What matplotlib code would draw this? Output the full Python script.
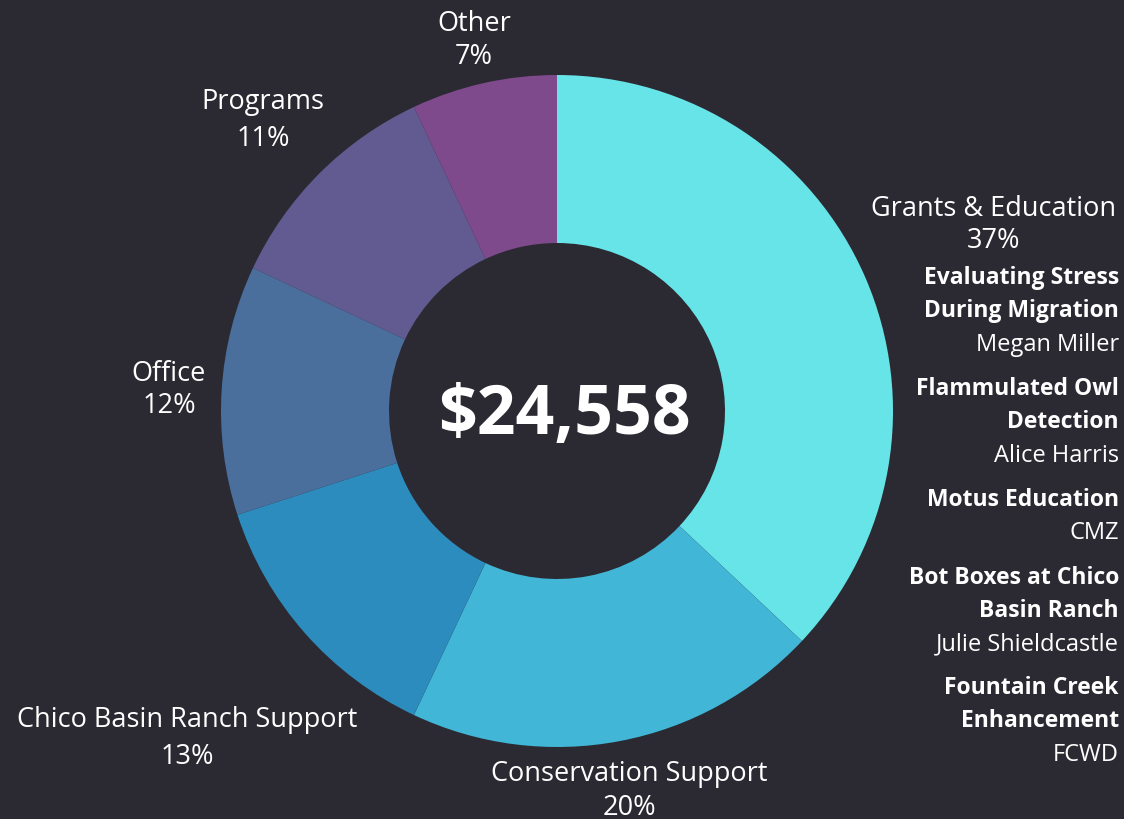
import matplotlib
matplotlib.use("Agg")
import matplotlib.pyplot as plt

# ---- data ----
categories = ["Grants & Education", "Conservation Support", "Chico Basin Ranch Support",
              "Office", "Programs", "Other"]
percents = [37, 20, 13, 12, 11, 7]
total_label = "$24,558"
projects = ["Evaluating Stress\nDuring Migration", "Flammulated Owl\nDetection",
            "Motus Education", "Bot Boxes at Chico\nBasin Ranch", "Fountain Creek\nEnhancement"]
project_leads = ["Megan Miller", "Alice Harris", "CMZ", "Julie Shieldcastle", "FCWD"]

# ---- style ----
bg = "#2b2a33"
colors = ["#67e4e8", "#41b6d6", "#2b8cbd", "#4a6f9d", "#625b91", "#7e4a8c"]
W, H = 1124, 820

fig = plt.figure(figsize=(W / 100, H / 100), dpi=100, facecolor=bg)
ax = fig.add_axes([0, 0, 1, 1])
ax.set_facecolor(bg)

cx, cy = 557, H - 412
R = 336
wedges, _ = ax.pie(percents, colors=colors, startangle=90, counterclock=False,
                   center=(cx, cy), radius=R, frame=True,
                   wedgeprops=dict(width=R - 168, linewidth=0))
ax.set_xlim(0, W)
ax.set_ylim(0, H)
ax.set_aspect("equal")
ax.set_axis_off()

FAM = ["Open Sans", "DejaVu Sans"]
label_font = dict(family=FAM, fontsize=19.5, color="white", fontweight="normal")
label_pos = [(994, 209, 241), (629, 774, 808), (187, 720, 757), (169, 374, 406),
             (263, 102, 139), (474, 24, 57)]
for cat, p, (x, y1, y2) in zip(categories, percents, label_pos):
    ax.text(x, H - y1, cat, ha="center", va="center", **label_font)
    ax.text(x, H - y2, f"{p}%", ha="center", va="center", **label_font)

ax.text(cx + 7, H - 416, total_label, ha="center", va="center", color="white",
        fontsize=49, fontweight="bold", family=FAM)

# project list
xr = 1119
proj_tops = [278, 389, 500, 578, 688]
lh = 33.3
for name, lead, top in zip(projects, project_leads, proj_tops):
    lines = name.split("\n")
    for i, ln in enumerate(lines):
        ax.text(xr, H - (top + i * lh), ln, ha="right", va="center", color="white",
                fontsize=16.5, fontweight="bold", family=FAM)
    ax.text(xr, H - (top + len(lines) * lh), lead, ha="right", va="center", color="white",
            fontsize=17, family=FAM)

fig.savefig("out.png", dpi=100, facecolor=bg)
